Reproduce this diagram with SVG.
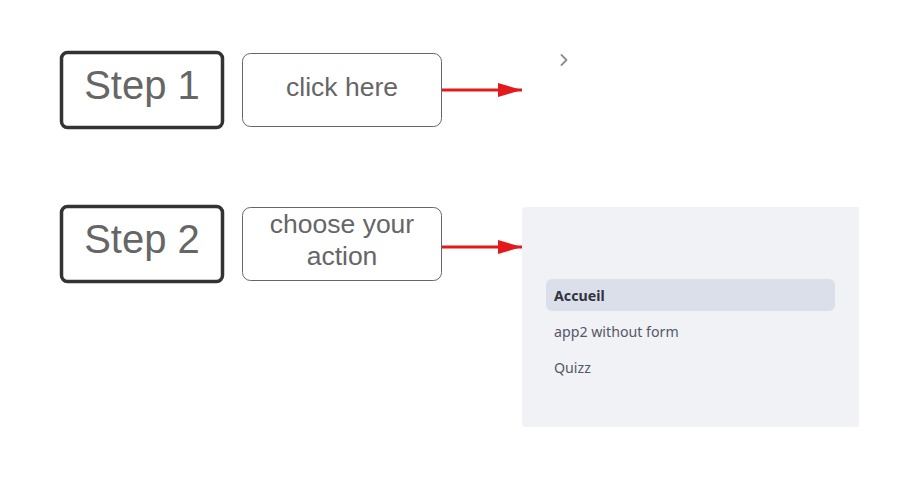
<svg xmlns="http://www.w3.org/2000/svg" width="916" height="504" viewBox="0 0 916 504">
<style>
.step{fill:#fff;stroke:#333;stroke-width:3.5}
.act{fill:#fff;stroke:#666;stroke-width:1}
.st{font-family:"Liberation Sans",Arial,sans-serif;font-size:40px;fill:#666;text-anchor:middle}
.at{font-family:"Liberation Sans",Arial,sans-serif;font-size:26.5px;fill:#666;text-anchor:middle}
.conn{stroke:#e31a1c;stroke-width:3;fill:none}
.menu{font-family:"Noto Sans","Open Sans",sans-serif;font-size:14.2px;fill:#555867}
</style>
<defs>
<marker id="ah" markerUnits="userSpaceOnUse" markerWidth="24" markerHeight="14" refX="24" refY="7" orient="auto">
<path d="M0,0 L24,7 L0,14 Z" fill="#e31a1c"/>
</marker>
</defs>
<rect width="916" height="504" fill="#fff"/>
<g id="step1">
<rect class="step" x="61.5" y="52.5" width="161" height="75" rx="6"/>
<text class="st" x="142" y="99">Step 1</text>
</g>
<g id="click-here">
<rect class="act" x="242.5" y="53.5" width="199" height="73" rx="8"/>
<text class="at" x="342" y="96">click here</text>
</g>
<g id="step2">
<rect class="step" x="61.5" y="206.5" width="161" height="75" rx="6"/>
<text class="st" x="142" y="253">Step 2</text>
</g>
<g id="choose-action">
<rect class="act" x="242.5" y="207.5" width="199" height="73" rx="8"/>
<text class="at" x="342" y="233">choose your</text>
<text class="at" x="342" y="265">action</text>
</g>
<g id="chevron">
<polyline points="561.5,55 566.5,60 561.5,65" fill="none" stroke="#8a8d97" stroke-width="1.8" stroke-linecap="round" stroke-linejoin="round"/>
</g>
<g id="sidebar">
<path d="M526,207 H859 V427 H526 A4,4 0 0 1 522,423 V211 A4,4 0 0 1 526,207 Z" fill="#f0f2f6"/>
<rect x="546" y="279" width="289" height="32" rx="6" fill="#dadfe9"/>
<text class="menu" x="554" y="301" font-weight="bold" style="fill:#31333f">Accueil</text>
<text class="menu" x="554" y="337">app2 without form</text>
<text class="menu" x="554" y="373">Quizz</text>
</g>
<g id="connectors">
<line class="conn" x1="442" y1="90" x2="522" y2="90" marker-end="url(#ah)"/>
<line class="conn" x1="442" y1="247" x2="522" y2="247" marker-end="url(#ah)"/>
</g>
</svg>
